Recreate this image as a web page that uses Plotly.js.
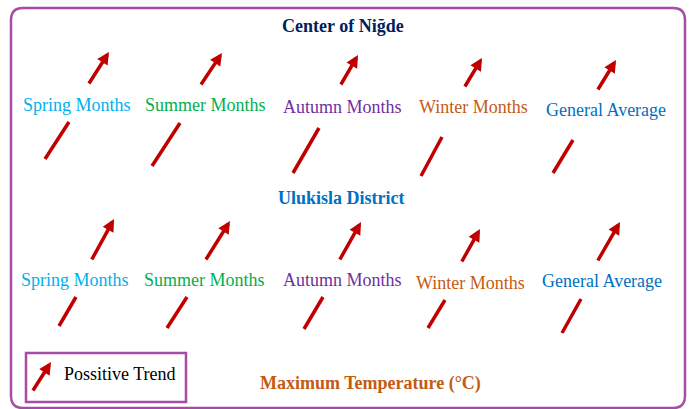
<!DOCTYPE html>
<html>
<head>
<meta charset="utf-8">
<script src="https://cdn.plot.ly/plotly-3.0.1.min.js"></script>
<style>
html,body{margin:0;padding:0;background:#fff;}
#chart{width:691px;height:409px;}
</style>
</head>
<body>
<div id="chart"></div>
<script>
// ---- data ----
const groups = ['Center of Niğde', 'Ulukisla District'];
const seasons = ['Spring Months', 'Summer Months', 'Autumn Months', 'Winter Months', 'General Average'];
const trends = [
  ['positive', 'positive', 'positive', 'positive', 'positive'],
  ['positive', 'positive', 'positive', 'positive', 'positive']
];
const legendLabel = 'Possitive Trend';
const parameterTitle = 'Maximum Temperature (°C)';

// ---- layout constants (pixel positions, styles) ----
const seasonColors = ['#00b0f0', '#00b050', '#7030a0', '#c55a11', '#0070c0'];
const groupColors = ['#002060', '#0070c0'];
const groupTitlePos = [[342.5, 26], [341.5, 198]];
const labelPos = [
  [[77, 105], [205.5, 105], [342, 106.5], [473.5, 106.5], [606, 110]],
  [[74.5, 280], [204.5, 280], [342.5, 280], [470.5, 283], [601.5, 281]]
];
// lower segment [x0,y0,x1,y1], upper arrow [tailX,tailY,tipX,tipY]
const lowerSeg = [
  [[45,159,69,122],[152,166,180,123],[293,173,319,128],[421,176,442,137],[553,173,573,140]],
  [[59,326,76,297],[167,328,187,297],[304,329,323,297],[428,328,445,300],[562,333,581,299]]
];
const upperArrow = [
  [[88,85,109,52],[200,86,222,53],[340,86,358,55],[464,88,482,58],[597,91,616,60]],
  [[91,261,114,219],[205,261,230,221],[339,261,361,222],[461,263,480,229],[597,262,620,222]]
];
const legendArrow = [32,392,51,362];
const arrowColor = '#c00000';
const frameColor = '#a64ca6';
const serif = 'Liberation Serif, Times New Roman, serif';

const shapes = [];
const annotations = [];

// outer rounded frame
shapes.push({
  type: 'path', xref: 'x', yref: 'y',
  path: 'M 23,8 L 673,8 Q 685,8 685,20 L 685,396 Q 685,408 673,408 L 23,408 Q 11,408 11,396 L 11,20 Q 11,8 23,8 Z',
  line: {color: frameColor, width: 2.5}, fillcolor: 'rgba(0,0,0,0)'
});
// legend box
shapes.push({
  type: 'rect', xref: 'x', yref: 'y', x0: 26, x1: 186, y0: 353, y1: 402,
  line: {color: frameColor, width: 2.5}, fillcolor: 'rgba(0,0,0,0)'
});

function addArrow(tail, tip) {
  annotations.push({
    x: tip[0], y: tip[1], ax: tail[0], ay: tail[1],
    xref: 'x', yref: 'y', axref: 'x', ayref: 'y',
    text: '', showarrow: true, arrowhead: 2, arrowsize: 0.7, arrowwidth: 3.5,
    arrowcolor: arrowColor, standoff: 0, startstandoff: 0
  });
}

groups.forEach((g, gi) => {
  annotations.push({
    x: groupTitlePos[gi][0], y: groupTitlePos[gi][1], xref: 'x', yref: 'y',
    text: '<b>' + g + '</b>', showarrow: false, xanchor: 'center', yanchor: 'middle',
    font: {family: serif, size: 18, color: groupColors[gi]}
  });
  seasons.forEach((s, si) => {
    annotations.push({
      x: labelPos[gi][si][0], y: labelPos[gi][si][1], xref: 'x', yref: 'y',
      text: s, showarrow: false, xanchor: 'center', yanchor: 'middle',
      font: {family: serif, size: 18, color: seasonColors[si]}
    });
    if (trends[gi][si] === 'positive') {
      const l = lowerSeg[gi][si];
      shapes.push({
        type: 'line', xref: 'x', yref: 'y', x0: l[0], y0: l[1], x1: l[2], y1: l[3],
        line: {color: arrowColor, width: 3.5}
      });
      const u = upperArrow[gi][si];
      addArrow([u[0], u[1]], [u[2], u[3]]);
    }
  });
});

// legend
addArrow([legendArrow[0], legendArrow[1]], [legendArrow[2], legendArrow[3]]);
annotations.push({
  x: 62, y: 374, xref: 'x', yref: 'y', text: legendLabel, showarrow: false,
  xanchor: 'left', yanchor: 'middle', font: {family: serif, size: 18, color: '#000000'}
});
// parameter title
annotations.push({
  x: 370.5, y: 383, xref: 'x', yref: 'y', text: '<b>' + parameterTitle + '</b>', showarrow: false,
  xanchor: 'center', yanchor: 'middle', font: {family: serif, size: 18, color: '#c55a11'}
});

const layout = {
  width: 691, height: 409,
  margin: {l: 0, r: 0, t: 0, b: 0, pad: 0},
  paper_bgcolor: '#ffffff', plot_bgcolor: '#ffffff',
  xaxis: {range: [0, 691], visible: false, fixedrange: true},
  yaxis: {range: [409, 0], visible: false, fixedrange: true},
  shapes: shapes, annotations: annotations, showlegend: false
};

Plotly.newPlot('chart', [{x: [], y: [], type: 'scatter', hoverinfo: 'skip'}], layout, {staticPlot: true, displayModeBar: false});
</script>
</body>
</html>
